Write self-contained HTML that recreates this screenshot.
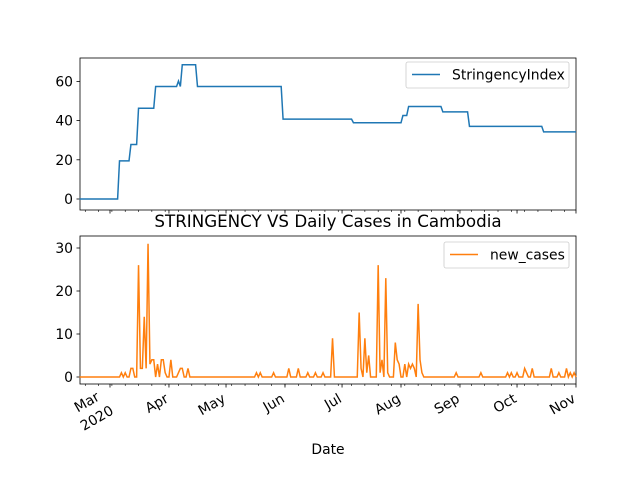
<!DOCTYPE html>
<html><head><meta charset="utf-8"><style>
body{margin:0;background:#fff}
svg text{font-family:"DejaVu Sans","Liberation Sans",sans-serif;fill:#000}
</style></head><body>
<svg id="c" width="640" height="480" xmlns="http://www.w3.org/2000/svg"></svg>
<script>
const strChangeDays=[-16,5,11,15,24,36,37,38,46,91,128,154,157,175,189,228];
const strChangeValues=[0,19.44,27.78,46.3,57.41,60.19,57.41,68.52,57.41,40.74,38.89,42.59,47.22,44.44,37.04,34.26];
const caseDays=[6,8,11,12,15,16,17,18,19,20,21,22,23,25,27,28,29,32,36,37,38,41,77,79,86,94,99,104,108,112,117,131,132,134,135,136,141,142,143,145,146,150,151,152,155,157,158,159,160,162,163,164,182,195,209,211,214,218,219,222,232,236,240,242,244];
const caseValues=[1,1,2,2,26,2,2,14,2,31,3,4,4,3,4,4,1,4,1,2,2,2,1,1,1,2,2,1,1,1,9,15,2,9,1,5,26,1,4,23,1,8,4,3,3,3,2,3,2,17,4,1,1,1,1,1,1,2,1,2,2,1,2,1,1];
const monthDays=[0,31,61,92,122,153,184,214,245];
const monthLabels=["Mar","Apr","May","Jun","Jul","Aug","Sep","Oct","Nov"];
const topTicks=[0,20,40,60];
const botTicks=[0,10,20,30];
const dayStart=-16,dayEnd=245;

const NS="http://www.w3.org/2000/svg";
const svg=document.getElementById('c');
function mk(t,a,p){const e=document.createElementNS(NS,t);for(const k in a)e.setAttribute(k,a[k]);(p||svg).appendChild(e);return e;}
const L=80,R=576;
const xs=d=>110+d*1.902;
const yTop=v=>199-v*1.96;
const yBot=v=>377-v*4.3;

const days=[],strV=[],caseV=[];
for(let d=dayStart;d<=dayEnd;d++){
  days.push(d);
  let v=0;for(let i=0;i<strChangeDays.length;i++){if(strChangeDays[i]<=d)v=strChangeValues[i];}
  strV.push(v);
  const j=caseDays.indexOf(d);caseV.push(j>=0?caseValues[j]:0);
}

function axes(y0,y1,ticks,ys,name,showLabels){
  const g=mk('g',{});
  
  
  for(const t of ticks){
    mk('line',{x1:L-3.5,x2:L,y1:ys(t),y2:ys(t),stroke:'#000','stroke-width':0.8},g);
    const tx=mk('text',{x:L-7,y:ys(t)+5,'text-anchor':'end','font-size':13.9},g);tx.textContent=t;
  }
  for(let d=-13;d<=245;d+=7){mk('line',{x1:xs(d),x2:xs(d),y1:y1,y2:y1+2,stroke:'#000','stroke-width':0.6},g);}
  monthDays.forEach((d,i)=>{
    mk('line',{x1:xs(d),x2:xs(d),y1:y1,y2:y1+3.5,stroke:'#000','stroke-width':0.8},g);
    if(showLabels){
      const x=xs(d)-6,y=y1+6;
      const t=mk('text',{x:0,y:0,'text-anchor':'end','font-size':13.9,transform:`translate(${x},${y}) rotate(-30) translate(0,13)`},g);
      t.textContent=monthLabels[i];
      if(i===0){
        t.setAttribute('transform',`translate(${x-9},${y}) rotate(-30) translate(0,11)`);
        const t2=mk('text',{x:0,y:0,'text-anchor':'end','font-size':13.9,transform:`translate(${x-3},${y}) rotate(-30) translate(0,27)`},g);t2.textContent="2020";}
    }
  });
  mk('rect',{x:L,y:y0,width:R-L,height:y1-y0,fill:'none',stroke:'#000','stroke-width':0.8},g);
}
axes(58,210,topTicks,yTop,'top-axes',false);
axes(236,384,botTicks,yBot,'bottom-axes',true);

const p1=mk('polyline',{points:days.map((d,i)=>xs(d)+','+yTop(strV[i])).join(' '),fill:'none',stroke:'#1f77b4','stroke-width':1.5});


const p2=mk('polyline',{points:days.map((d,i)=>xs(d)+','+yBot(caseV[i])).join(' '),fill:'none',stroke:'#ff7f0e','stroke-width':1.5});



function legend(x,y,w,label,color,name){
  const g=mk('g',{});
  
  
  mk('rect',{x:x,y:y,width:w,height:26,rx:2,fill:'#fff','fill-opacity':0.8,stroke:'#ccc','stroke-width':0.8},g);
  mk('line',{x1:x+6,x2:x+34,y1:y+12.5,y2:y+12.5,stroke:color,'stroke-width':1.5},g);
  const t=mk('text',{x:x+46,y:y+17.5,'font-size':13.9},g);t.textContent=label;
}
legend(406,62,163,'StringencyIndex','#1f77b4','legend-stringency');
legend(444,242,125,'new_cases','#ff7f0e','legend-new-cases');

const title=mk('text',{x:328,y:227,'text-anchor':'middle','font-size':16.7});
title.textContent='STRINGENCY VS Daily Cases in Cambodia';


const xl=mk('text',{x:328,y:454,'text-anchor':'middle','font-size':13.9});
xl.textContent='Date';


</script>
</body></html>
